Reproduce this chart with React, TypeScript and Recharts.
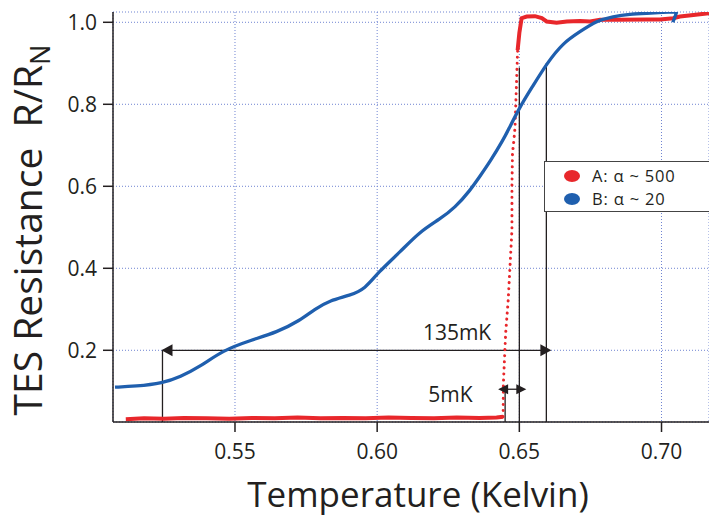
import { CartesianGrid, Line, LineChart, ReferenceDot, ReferenceLine, XAxis, YAxis } from 'recharts';

const RED = '#e8272b';
const BLUE = '#1f5fae';
const GRID = '#6f84d2';
const INK = '#231f20';
const FONT = '"Open Sans", sans-serif';

const xTicks = [0.55, 0.6, 0.65, 0.7];
const yTicks = [0.2, 0.4, 0.6, 0.8, 1.0];
const xDomain = [0.5071, 0.7167];
const yDomain = [0.0251, 1.0251];

// sample A (alpha ~ 500): superconducting floor, sharp transition, normal state
const redLowT = [0.5116, 0.518, 0.525, 0.532, 0.54, 0.548, 0.556, 0.564, 0.572, 0.58, 0.588, 0.596, 0.604, 0.612, 0.62, 0.628, 0.636, 0.642, 0.6443];
const redLowR = [0.032, 0.034, 0.033, 0.035, 0.034, 0.033, 0.035, 0.034, 0.036, 0.034, 0.035, 0.034, 0.036, 0.035, 0.034, 0.036, 0.035, 0.036, 0.038];
const redRiseT = [0.6443, 0.6444, 0.6452, 0.6461, 0.6474, 0.6474, 0.6476, 0.6481, 0.6485, 0.6488, 0.6492, 0.6494];
const redRiseR = [0.038, 0.12, 0.242, 0.324, 0.493, 0.601, 0.681, 0.713, 0.745, 0.81, 0.891, 0.932];
const redHighT = [0.6494, 0.65, 0.6508, 0.6526, 0.6555, 0.6579, 0.6596, 0.6631, 0.6667, 0.6713, 0.6749, 0.6784, 0.6842, 0.6948, 0.6995, 0.7041, 0.7065, 0.7112, 0.7167];
const redHighR = [0.932, 0.974, 1.01, 1.014, 1.015, 1.01, 1.002, 0.999, 1.002, 1.003, 1.002, 1.006, 1.006, 1.007, 1.007, 1.01, 1.014, 1.018, 1.022];

// sample B (alpha ~ 20): broad transition
const blueT = [0.5078, 0.515, 0.5247, 0.5307, 0.5377, 0.5458, 0.5553, 0.5648, 0.5729, 0.578, 0.5834, 0.5905, 0.5958, 0.6003, 0.6081, 0.6151, 0.6221, 0.6274, 0.6327, 0.6362, 0.6397, 0.6443, 0.6461, 0.6502, 0.6548, 0.6597, 0.6654, 0.6713, 0.6773, 0.6829, 0.6889, 0.6949, 0.7005, 0.7054, 0.7054, 0.704];
const blueR = [0.11, 0.112, 0.12, 0.135, 0.16, 0.2, 0.224, 0.244, 0.273, 0.3, 0.322, 0.334, 0.35, 0.39, 0.44, 0.49, 0.52, 0.548, 0.59, 0.625, 0.66, 0.713, 0.737, 0.794, 0.845, 0.9, 0.95, 0.977, 1.004, 1.014, 1.02, 1.022, 1.024, 1.026, 1.026, 1.0];

const seriesNames = ['A: α ~ 500', 'B: α ~ 20'];
const seriesColors = [RED, BLUE];

// transition widths (K) marked on the plot
const wideSpan = [0.5245, 0.6595];
const wideLevel = 0.2;
const wideTop = 0.9;
const narrowSpan = [0.645, 0.65];
const narrowLevel = 0.105;
const narrowTop = 0.89;
const wideLabel = { t: 0.6281, r: 0.2244, text: '135mK' };
const narrowLabel = { t: 0.6258, r: 0.0746, text: '5mK' };

const pts = (t: number[], r: number[]) => t.map((x, i) => ({ t: x, r: r[i] }));
const redLow = pts(redLowT, redLowR);
const redRise = pts(redRiseT, redRiseR);
const redHigh = pts(redHighT, redHighR);
const blue = pts(blueT, blueR);

const arrow = (dir: number, out: number, len: number, half: number) => (p: any) => {
  const tip = p.cx + dir * out;
  const base = tip - dir * len;
  return <path d={`M${tip},${p.cy}L${base},${p.cy - half}L${base},${p.cy + half}Z`} fill={INK} />;
};

const note = (text: string) => (p: any) => (
  <text x={p.cx} y={p.cy} textAnchor="middle" fontSize={21} fill={INK} fontFamily={FONT}>{text}</text>
);

function YTitle({ viewBox }: any) {
  const x = viewBox.x + 42;
  const y = viewBox.y + viewBox.height / 2 + 13;
  return (
    <text transform={`translate(${x} ${y}) rotate(-90)`} textAnchor="middle" fontSize={39} fill={INK} fontFamily={FONT}>
      TES Resistance{'\u00A0\u00A0'}R/R<tspan fontSize={27} dy={8}>N</tspan>
    </text>
  );
}

function XTitle({ viewBox }: any) {
  return (
    <text x={418} y={viewBox.y + viewBox.height - 9} textAnchor="middle" fontSize={35} fill={INK} fontFamily={FONT}>
      Temperature (Kelvin)
    </text>
  );
}

function LegendBox() {
  return (
    <div style={{ position: 'absolute', left: 544, top: 161, width: 180, height: 51, border: '1.5px solid #444', background: '#fff', boxSizing: 'border-box' }}>
      {seriesNames.map((name, i) => (
        <div key={name} style={{ position: 'absolute', left: 19, top: 3 + i * 23, height: 22, lineHeight: '22px', display: 'flex', alignItems: 'center', fontSize: 16.5, letterSpacing: '0.8px', color: INK, whiteSpace: 'nowrap' }}>
          <span style={{ width: 16, height: 12, borderRadius: '50%', background: seriesColors[i], display: 'inline-block', marginRight: 12 }} />
          {name}
        </div>
      ))}
    </div>
  );
}

export default function App() {
  const tick = { fill: INK, fontSize: 21, fontFamily: FONT };
  return (
    <div style={{ position: 'absolute', left: 0, top: 0, width: 709, height: 516, background: '#fff', fontFamily: FONT, overflow: 'hidden' }}>
      <LineChart width={709} height={516} margin={{ top: 12, right: 0, bottom: 0, left: 0 }}>
        <CartesianGrid stroke={GRID} strokeDasharray="1 2" />
        <XAxis
          dataKey="t"
          type="number"
          domain={xDomain}
          allowDataOverflow
          ticks={xTicks}
          tickFormatter={(v) => v.toFixed(2)}
          height={94}
          tickSize={10}
          tickMargin={12}
          tick={tick}
          stroke={INK}
          strokeWidth={1.5}
          label={<XTitle />}
        />
        <YAxis
          type="number"
          domain={yDomain}
          allowDataOverflow
          ticks={yTicks}
          tickFormatter={(v) => v.toFixed(1)}
          width={113}
          tickSize={10}
          tickMargin={6}
          tick={tick}
          stroke={INK}
          strokeWidth={1.5}
          label={<YTitle />}
        />
        <ReferenceLine ifOverflow="visible" segment={[{ x: wideSpan[0], y: yDomain[0] }, { x: wideSpan[0], y: wideLevel }]} stroke={INK} strokeWidth={1.3} />
        <ReferenceLine ifOverflow="visible" segment={[{ x: wideSpan[1], y: yDomain[0] }, { x: wideSpan[1], y: wideTop }]} stroke={INK} strokeWidth={1.3} />
        <ReferenceLine ifOverflow="visible" segment={[{ x: wideSpan[0], y: wideLevel }, { x: wideSpan[1], y: wideLevel }]} stroke={INK} strokeWidth={1.3} />
        <ReferenceLine ifOverflow="visible" segment={[{ x: narrowSpan[0], y: yDomain[0] }, { x: narrowSpan[0], y: narrowLevel }]} stroke={INK} strokeWidth={1.3} />
        <ReferenceLine ifOverflow="visible" segment={[{ x: narrowSpan[1], y: yDomain[0] }, { x: narrowSpan[1], y: narrowTop }]} stroke={INK} strokeWidth={1.3} />
        <ReferenceLine ifOverflow="visible" segment={[{ x: narrowSpan[0], y: narrowLevel }, { x: narrowSpan[1], y: narrowLevel }]} stroke={INK} strokeWidth={1.3} />
        <Line data={redLow} dataKey="r" stroke={RED} strokeWidth={4} dot={false} isAnimationActive={false} />
        <Line data={redRise} dataKey="r" stroke={RED} strokeWidth={3} strokeDasharray="0.1 6" strokeLinecap="round" dot={false} isAnimationActive={false} />
        <Line data={redHigh} dataKey="r" stroke={RED} strokeWidth={4} dot={false} isAnimationActive={false} />
        <Line data={blue} type="basis" dataKey="r" stroke={BLUE} strokeWidth={3.3} dot={false} isAnimationActive={false} />
        <ReferenceDot ifOverflow="visible" x={wideSpan[0]} y={wideLevel} shape={arrow(-1, 1, 11, 6)} />
        <ReferenceDot ifOverflow="visible" x={wideSpan[1]} y={wideLevel} shape={arrow(1, 5, 11, 6)} />
        <ReferenceDot ifOverflow="visible" x={narrowSpan[0]} y={narrowLevel} shape={arrow(-1, 7, 10, 5)} />
        <ReferenceDot ifOverflow="visible" x={narrowSpan[1]} y={narrowLevel} shape={arrow(1, 7, 10, 5)} />
        <ReferenceDot ifOverflow="visible" x={wideLabel.t} y={wideLabel.r} shape={note(wideLabel.text)} />
        <ReferenceDot ifOverflow="visible" x={narrowLabel.t} y={narrowLabel.r} shape={note(narrowLabel.text)} />
      </LineChart>
      <LegendBox />
    </div>
  );
}
